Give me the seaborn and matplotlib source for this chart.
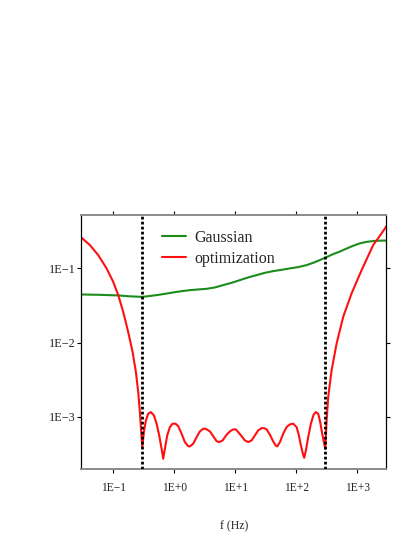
import matplotlib
matplotlib.use("Agg")
import matplotlib.pyplot as plt
from matplotlib.ticker import FixedLocator, FixedFormatter, NullLocator
import seaborn as sns
import pandas as pd

# ---- data ----
freq_red = [0.0303, 0.0415, 0.0568, 0.0779, 0.100, 0.121, 0.146, 0.176, 0.208, 0.2355,
            0.257, 0.274, 0.2877, 0.300, 0.3187, 0.3437, 0.3749, 0.415, 0.4648, 0.5146,
            0.5676, 0.6215, 0.660, 0.704, 0.7676, 0.850, 0.941, 1.054, 1.163, 1.322,
            1.497, 1.696, 1.808, 2.049, 2.329, 2.638, 2.988, 3.272, 3.848, 4.358,
            4.955, 5.466, 6.216, 7.228, 8.188, 9.273, 10.27, 11.20, 12.73, 14.42,
            16.34, 18.57, 21.04, 23.83, 27.09, 29.54, 32.72, 37.06, 41.98, 45.95,
            48.81, 54.07, 61.23, 69.60, 78.83, 89.29, 101.5, 110.7, 119.4, 128.8,
            135.2, 144.2, 157.3, 174.2, 192.8, 210.4, 229.5, 247.4, 266.9, 287.7,
            300.0, 315.1, 334.6, 380.4, 459.5, 589.5, 809.5, 1181, 1829, 2512, 3034]
mag_red = [0.259, 0.2065, 0.151, 0.100, 0.0659, 0.0436, 0.0259, 0.0139, 0.00746, 0.00401,
           0.00215, 0.00115, 6.19e-4, 3.88e-4, 6.19e-4, 8.91e-4, 1.098e-3, 1.154e-3, 1.041e-3, 8.04e-4,
           5.59e-4, 3.69e-4, 2.71e-4, 3.69e-4, 5.59e-4, 7.24e-4, 8.04e-4, 8.04e-4, 7.46e-4, 5.89e-4,
           4.54e-4, 4.01e-4, 3.97e-4, 4.32e-4, 5.30e-4, 6.33e-4, 6.88e-4, 6.88e-4, 6.33e-4, 5.47e-4,
           4.68e-4, 4.54e-4, 4.78e-4, 5.71e-4, 6.33e-4, 6.74e-4, 6.74e-4, 6.19e-4, 5.47e-4, 4.78e-4,
           4.54e-4, 4.78e-4, 5.59e-4, 6.53e-4, 7.01e-4, 7.01e-4, 6.74e-4, 5.71e-4, 4.64e-4, 4.10e-4,
           3.97e-4, 4.54e-4, 5.89e-4, 7.24e-4, 7.87e-4, 8.04e-4, 7.24e-4, 5.59e-4, 4.10e-4, 3.16e-4,
           2.79e-4, 3.50e-4, 5.30e-4, 8.04e-4, 1.064e-3, 1.154e-3, 1.098e-3, 8.45e-4, 5.89e-4, 4.32e-4,
           3.69e-4, 8.91e-4, 1.84e-3, 4.22e-3, 9.69e-3, 0.0222, 0.0460, 0.0948, 0.2065, 0.2972, 0.3729]

freq_green = [0.0303, 0.0605, 0.121, 0.188, 0.300, 0.375, 0.515, 0.704, 0.963, 1.322,
              1.808, 2.474, 3.397, 4.647, 6.359, 8.730, 11.94, 16.34, 22.43, 30.69,
              41.98, 57.63, 78.83, 107.8, 148.1, 190.0, 244.6, 315.1, 404.3, 520.5,
              670.2, 859.9, 1107, 1426, 1829, 2356, 3034]
mag_green = [0.0445, 0.0440, 0.0432, 0.0420, 0.0413, 0.0422, 0.0436, 0.0454, 0.0474, 0.0493,
             0.0509, 0.0520, 0.0530, 0.0554, 0.0595, 0.0639, 0.0695, 0.0756, 0.0812, 0.0872,
             0.0919, 0.0957, 0.100, 0.1041, 0.1108, 0.1190, 0.1295, 0.1421, 0.156, 0.1687,
             0.1852, 0.202, 0.2177, 0.2281, 0.2338, 0.2367, 0.2375]

band_edges = [0.3, 300.0]

series_labels = ["Gaussian", "optimization"]
x_ticks = [0.1, 1, 10, 100, 1000]
x_tick_labels = ["1E\u22121", "1E+0", "1E+1", "1E+2", "1E+3"]
y_ticks = [0.1, 0.01, 0.001]
y_tick_labels = ["1E\u22121", "1E\u22122", "1E\u22123"]
x_label = "f (Hz)"

# ---- style ----
sns.set_style("ticks")
plt.rcParams["font.family"] = ["Liberation Serif", "DejaVu Serif"]
plt.rcParams["axes.unicode_minus"] = True

fig = plt.figure(figsize=(4.15, 5.37), dpi=100)
W, H = 415.0, 537.0
ax = fig.add_axes([81.3 / W, 1 - 468.5 / H, 305.0 / W, 253.8 / H])

df_g = pd.DataFrame({"f": freq_green, "m": mag_green})
df_r = pd.DataFrame({"f": freq_red, "m": mag_red})

sns.lineplot(data=df_g, x="f", y="m", ax=ax, color="#1c8c1c", lw=1.5,
             label=series_labels[0], sort=False, estimator=None)
sns.lineplot(data=df_r, x="f", y="m", ax=ax, color="#ff1010", lw=1.5,
             label=series_labels[1], sort=False, estimator=None)

for xe in band_edges:
    ax.axvline(xe, color="black", lw=2.0, linestyle=(0, (1.0, 0.8)), zorder=3)

ax.set_xscale("log")
ax.set_yscale("log")
ax.set_xlim(0.03, 3000)
ax.set_ylim(2.0e-4, 0.53)

ax.xaxis.set_major_locator(FixedLocator(x_ticks))
ax.xaxis.set_major_formatter(FixedFormatter(x_tick_labels))
ax.yaxis.set_major_locator(FixedLocator(y_ticks))
ax.yaxis.set_major_formatter(FixedFormatter(y_tick_labels))
ax.xaxis.set_minor_locator(NullLocator())
ax.yaxis.set_minor_locator(NullLocator())

ax.tick_params(axis="x", which="major", direction="out", length=2.7, width=0.8,
               color="black", labelsize=8.3, pad=7.0, top=True, bottom=True,
               labeltop=False, labelbottom=True, labelcolor="#222222")
ax.tick_params(axis="y", which="major", direction="out", length=2.7, width=0.8,
               color="black", labelsize=8.8, pad=1.5, left=True, right=True,
               labelleft=True, labelright=False, labelcolor="#222222")

for side in ["left", "right"]:
    ax.spines[side].set_color("black")
    ax.spines[side].set_linewidth(0.9)
for side in ["top", "bottom"]:
    ax.spines[side].set_color("#8a8a8a")
    ax.spines[side].set_linewidth(1.4)

ax.set_xlabel(x_label, fontsize=8.5, labelpad=19, color="#222222")
ax.set_ylabel("")

leg = ax.legend(frameon=False, fontsize=11.5, loc="upper left",
                bbox_to_anchor=((162 - 81.3) / 305.0, (468.5 - 229.5) / 253.8),
                borderaxespad=0, borderpad=0, handlelength=1.5,
                handletextpad=0.55, labelspacing=0.33)

fig.savefig("out.png", dpi=100)
